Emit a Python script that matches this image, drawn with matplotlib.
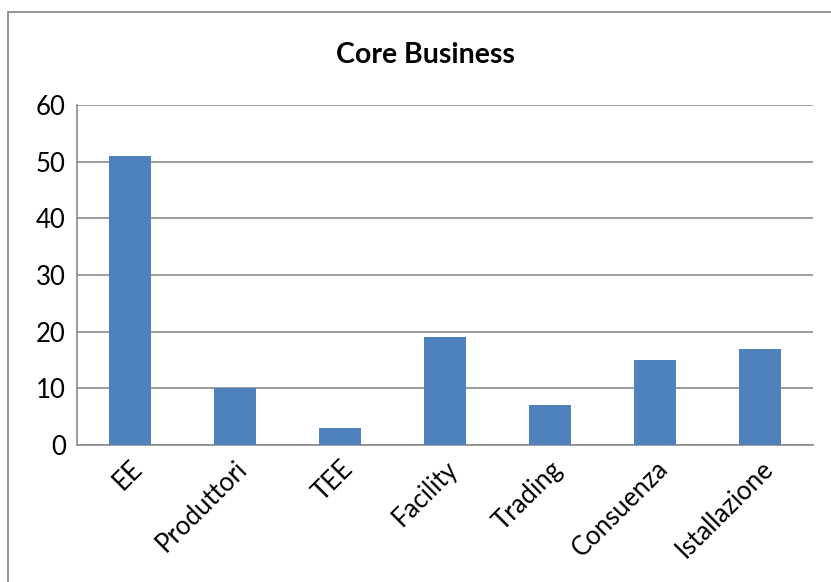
import matplotlib
matplotlib.use("Agg")
import matplotlib.pyplot as plt
from matplotlib.patches import Rectangle
from matplotlib.transforms import ScaledTranslation

categories = ["EE", "Produttori", "TEE", "Facility", "Trading", "Consuenza", "Istallazione"]
values = [51, 10, 3, 19, 7, 15, 17]
y_ticks = [0, 10, 20, 30, 40, 50, 60]

plt.rcParams["font.family"] = ["Lato", "DejaVu Sans"]

W, H = 831, 582
fig = plt.figure(figsize=(W / 100, H / 100), dpi=100)
fig.patch.set_facecolor("white")

# outer chart frame (runs past the right and bottom edges)
fig.patches.append(Rectangle((8 / W, -0.1), 1.2, (H - 12) / H + 0.1,
                             transform=fig.transFigure, fill=False,
                             edgecolor="#8c8c8c", linewidth=1.3))

ax = fig.add_axes([77 / W, 1 - 445 / H, (813 - 77) / W, (445 - 105) / H])
ax.bar(range(len(categories)), values, width=0.4, color="#4F81BD", zorder=3)

ax.set_xlim(-0.5, len(categories) - 0.5)
ax.set_ylim(0, 60)
ax.set_yticks(y_ticks)
ax.set_yticklabels([str(t) for t in y_ticks], fontsize=18.5)
ax.yaxis.grid(True, color="#8a8a8a", linewidth=1.2, zorder=0)
ax.set_xticks(range(len(categories)))
ax.set_xticklabels(categories, fontsize=18.5, rotation=45, ha="right",
                   rotation_mode="anchor")
shift = ScaledTranslation(5 / 100, 0, fig.dpi_scale_trans)
for lbl in ax.get_xticklabels():
    lbl.set_transform(lbl.get_transform() + shift)
ax.tick_params(axis="both", length=0)
ax.tick_params(axis="y", pad=8)
ax.tick_params(axis="x", pad=8)
for side in ("top", "right"):
    ax.spines[side].set_visible(False)
for side in ("left", "bottom"):
    ax.spines[side].set_color("#8a8a8a")
    ax.spines[side].set_linewidth(1.2)

fig.text(425 / W, 1 - 55 / H, "Core Business", fontsize=20.5, fontweight="bold",
         ha="center", va="center")

fig.savefig("out.png", dpi=100, facecolor="white")
